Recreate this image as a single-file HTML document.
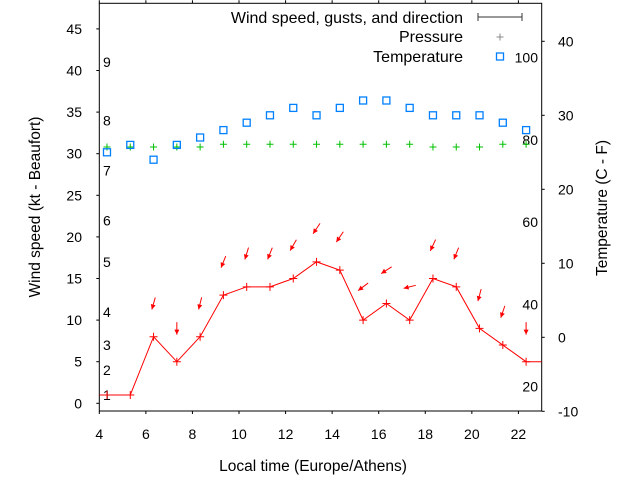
<!DOCTYPE html>
<html><head><meta charset="utf-8"><style>
html,body{margin:0;padding:0;background:#fff}
svg{display:block;font-family:"Liberation Sans",sans-serif}
</style></head><body>
<svg id="chart" width="640" height="480" viewBox="0 0 640 480" xmlns="http://www.w3.org/2000/svg">
<g id="axes"></g>
<g id="series"></g>
<text transform="translate(40,207) rotate(-90)" text-anchor="middle" font-size="15.5">Wind speed (kt - Beaufort)</text>
<text transform="translate(607,208) rotate(-90)" text-anchor="middle" font-size="15.5">Temperature (C - F)</text>
<text x="313" y="471" text-anchor="middle" font-size="15.5">Local time (Europe/Athens)</text>
<g font-size="16">
 <text x="463" y="23" text-anchor="end">Wind speed, gusts, and direction</text>
 <path d="M478,17H522M478,13V21M522,13V21" stroke="#333" stroke-width="1" fill="none"/>
 <text x="463" y="42" text-anchor="end">Pressure</text>
 <path d="M496.5,37H503.5M500,33.5V40.5" stroke="#888" stroke-width="1"/>
 <text x="463" y="62" text-anchor="end">Temperature</text>
 <rect x="496.5" y="53" width="7" height="7" fill="none" stroke="#0080ff" stroke-width="1.3"/>
</g>
</svg>
<script>
const times=[4.33,5.33,6.33,7.33,8.33,9.33,10.33,11.33,12.33,13.33,14.33,15.33,16.33,17.33,18.33,19.33,20.33,21.33,22.33];
const wind=[1,1,8,5,8,13,14,14,15,17,16,10,12,10,15,14,9,7,5];
const gusts=[null,null,12,9,12,17,18,18,19,21,20,14,16,14,19,18,13,11,9];
const windDir=[null,null,16,0,14,22,17,22,30,34,34,53,57,76,25,22,15,19,0];
const temperature=[25,26,24,26,27,28,29,30,31,30,31,32,32,31,30,30,30,29,28];
const pressure=[1012,1012,1012,1012,1012,1013,1013,1013,1013,1013,1013,1013,1013,1013,1012,1012,1012,1013,1013];
const xTicks=[4,6,8,10,12,14,16,18,20,22];
const yTicks=[0,5,10,15,20,25,30,35,40,45];
const y2Ticks=[-10,0,10,20,30,40];
const beaufortLabels=[1,2,3,4,5,6,7,8,9];
const beaufortKt=[1,4,7,11,17,22,28,34,41];
const fahrenheitTicks=[20,40,60,80,100];

const L=99.3,R=541.7,T=3.3,B=411;
const X=t=>L+(t-4)*(R-L)/19;
const Y=v=>403.3-8.32*v;
const Y2=c=>337.3-7.4*c;
const YP=p=>144.3+(1013-p)*2.7;
const NS='http://www.w3.org/2000/svg';
function mk(tag,attrs,parent){const e=document.createElementNS(NS,tag);for(const k in attrs)e.setAttribute(k,attrs[k]);parent.appendChild(e);return e;}
const ax=document.getElementById('axes'),se=document.getElementById('series');

let f=mk('rect',{x:L,y:T,width:R-L,height:B-T,fill:'none',stroke:'#000','stroke-width':1},ax);

xTicks.forEach(t=>{
 let l=mk('path',{d:`M${X(t)},${B}V${B+3}M${X(t)},${T}V${T-3}`,stroke:'#000'},ax);
 
 let tx=mk('text',{x:X(t),y:439,'text-anchor':'middle','font-size':14},ax);tx.textContent=t;
 
});
yTicks.forEach(v=>{
 let l=mk('path',{d:`M${L},${Y(v)}H${L-3}`,stroke:'#000'},ax);
 
 let tx=mk('text',{x:82,y:Y(v)+5,'text-anchor':'end','font-size':14},ax);tx.textContent=v;
 
});
y2Ticks.forEach(v=>{
 let l=mk('path',{d:`M${R},${Y2(v)}H${R+3}`,stroke:'#000'},ax);
 
 let tx=mk('text',{x:558,y:Y2(v)+5,'text-anchor':'start','font-size':14},ax);tx.textContent=v;
 
});
beaufortLabels.forEach((b,i)=>{
 let tx=mk('text',{x:103,y:Y(beaufortKt[i])+5,'font-size':14},ax);tx.textContent=b;
 
});
fahrenheitTicks.forEach(F=>{
 let tx=mk('text',{x:538,y:Y2((F-32)*5/9)+5,'text-anchor':'end','font-size':14},ax);tx.textContent=F;
 
});

const defs=mk('defs',{},se);const cp=mk('clipPath',{id:'clip'},defs);mk('rect',{x:L,y:T,width:R-L,height:B-T},cp);
const g=mk('g',{'clip-path':'url(#clip)'},se);

pressure.forEach((p,i)=>{
 let x=X(times[i]),y=YP(p);
 let m=mk('path',{d:`M${x-3.5},${y}H${x+3.5}M${x},${y-3.5}V${y+3.5}`,stroke:'#00c000','stroke-width':1},g);
 
});
temperature.forEach((c,i)=>{
 let x=X(times[i]),y=Y2(c);
 let m=mk('rect',{x:x-3.5,y:y-3.5,width:7,height:7,fill:'none',stroke:'#0080ff','stroke-width':1.3},g);
 
});
let pts=[[L,Y(wind[0])]].concat(times.map((t,i)=>[X(t),Y(wind[i])])).concat([[R,Y(wind[wind.length-1])]]);
let wl=mk('polyline',{points:pts.map(p=>p.join(',')).join(' '),fill:'none',stroke:'#f00','stroke-width':1},g);

wind.forEach((w,i)=>{
 let x=X(times[i]),y=Y(w);
 let m=mk('path',{d:`M${x-4},${y}H${x+4}M${x},${y-4}V${y+4}`,stroke:'#f00','stroke-width':1},g);
 
});
gusts.forEach((gv,i)=>{
 if(gv===null)return;
 const a=windDir[i]*Math.PI/180, len=12.5;
 const cx=X(times[i]), cy=Y(gv);
 const dx=-Math.sin(a), dy=Math.cos(a);
 const hx=cx+dx*len/2, hy=cy+dy*len/2, tx=cx-dx*len/2, ty=cy-dy*len/2;
 const px=-dy, py=dx;
 const bx=hx-dx*5, by=hy-dy*5;
 let ar=mk('g',{},g);
 
 mk('line',{x1:tx,y1:ty,x2:hx,y2:hy,stroke:'#f00','stroke-width':1},ar);
 mk('polygon',{points:`${hx},${hy} ${bx+px*2.5},${by+py*2.5} ${bx-px*2.5},${by-py*2.5}`,fill:'#f00'},ar);
});
</script>
</body></html>
